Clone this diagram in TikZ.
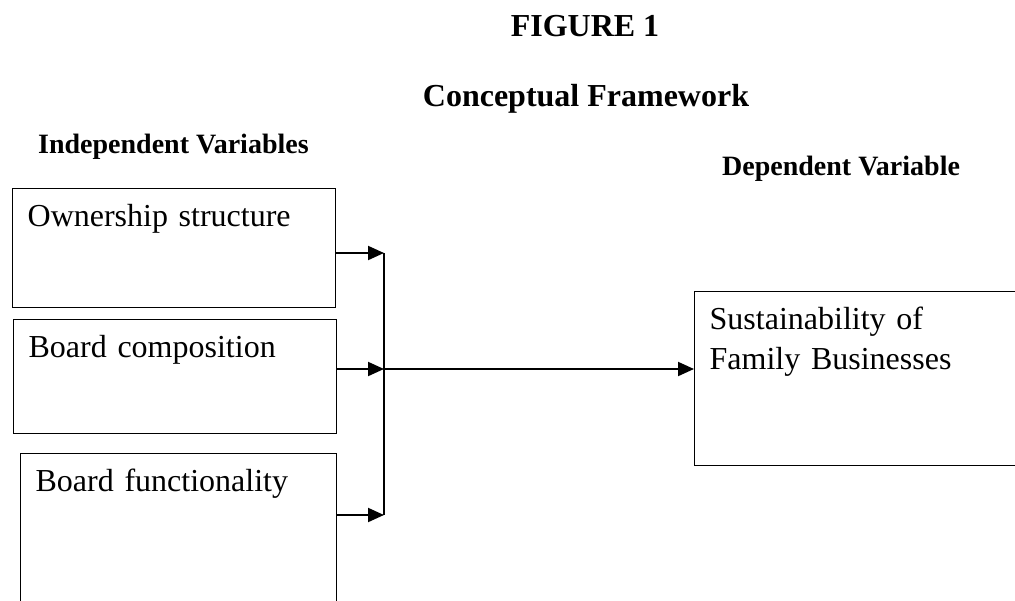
\documentclass[tikz,border=0pt]{standalone}
\usepackage{fontspec}
\setmainfont{Liberation Serif}
\usetikzlibrary{arrows.meta}

\begin{document}
\begin{tikzpicture}[x=1pt,y=-1pt]
    \useasboundingbox (0,0) rectangle (1015,600);
    \clip (0,0) rectangle (1015,600);
    \begin{scope}[every node/.style={inner sep=0pt, anchor=base, font=\bfseries\fontsize{32}{38}\selectfont}]
        \node (fig) at (585,36) {FIGURE 1};
        \node (title) at (586,106) {Conceptual Framework};
        \node[anchor=base west, font=\bfseries\fontsize{28}{34}\selectfont] (indep) at (38,153) {Independent Variables};
        \node[anchor=base west, font=\bfseries\fontsize{28}{34}\selectfont] (dep) at (722,175) {Dependent Variable};
    \end{scope}

    \begin{scope}[every node/.style={draw, line width=1.3pt, anchor=north west, align=left,
                  inner xsep=15pt, inner ysep=10pt, text height=28pt, font=\fontsize{32}{40}\selectfont}]
        \node[text width=293pt, text depth=71pt] (own) at (12,188) {Ownership structure};
        \node[text width=293pt, text depth=66pt] (comp) at (13,319) {Board composition};
        \node[text width=286pt, text depth=110pt] (func) at (20,453) {Board functionality};
        \node[text width=306pt, text depth=126pt] (sust) at (694,291) {Sustainability of\\Family Businesses};
    \end{scope}

    \coordinate (b1) at (384,253);
    \coordinate (b2) at (384,369);
    \coordinate (b3) at (384,515);

    \begin{scope}[->, >={Triangle[length=16pt,width=14pt]},
                  every edge/.style={draw=black, line width=2pt}]
        \path (own.east |- b1) edge (b1);
        \path (comp.east |- b2) edge (b2);
        \path (func.east |- b3) edge (b3);
        \path (b2) edge (b2 -| sust.west);
    \end{scope}
    \draw[line width=2pt] (b1) -- (b3);
\end{tikzpicture}
\end{document}
